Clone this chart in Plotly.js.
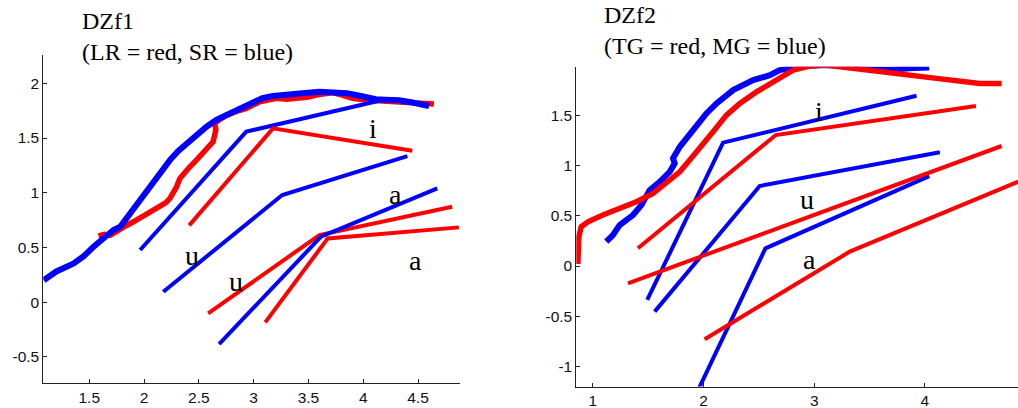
<!DOCTYPE html>
<html>
<head>
<meta charset="utf-8">
<script src="https://cdn.plot.ly/plotly-3.0.1.min.js"></script>
<style>
html, body { margin: 0; padding: 0; background: #fff; }
#chart { width: 1018px; height: 408px; }
</style>
</head>
<body>
<div id="chart"></div>
<script>
// ---------- DZf1 (LR = red, SR = blue) ----------
const dzf1_SR_x = [1.085, 1.20, 1.358, 1.45, 1.539, 1.63, 1.721, 1.782, 1.85, 1.934, 2.00, 2.085, 2.16, 2.236, 2.31, 2.388, 2.47, 2.57, 2.66, 2.782, 2.88, 2.994, 3.08, 3.176, 3.30, 3.418, 3.6, 3.721, 3.85, 3.933, 4.03, 4.115, 4.2, 4.327, 4.45, 4.6];
const dzf1_SR_y = [0.20, 0.28, 0.354, 0.42, 0.506, 0.58, 0.659, 0.688, 0.78, 0.902, 0.995, 1.115, 1.21, 1.298, 1.38, 1.451, 1.53, 1.603, 1.665, 1.726, 1.78, 1.832, 1.865, 1.884, 1.90, 1.908, 1.923, 1.921, 1.91, 1.893, 1.87, 1.854, 1.85, 1.845, 1.825, 1.793];
const dzf1_LR_x = [1.585, 1.64, 1.69, 1.782, 1.84, 1.903, 1.994, 2.024, 2.08, 2.145, 2.2, 2.236, 2.27, 2.297, 2.327, 2.37, 2.418, 2.48, 2.539, 2.59, 2.630, 2.655, 2.645, 2.70, 2.752, 2.85, 2.934, 3.055, 3.206, 3.30, 3.388, 3.5, 3.57, 3.65, 3.721, 3.80, 3.903, 4.024, 4.15, 4.327, 4.50, 4.645];
const dzf1_LR_y = [0.604, 0.62, 0.61, 0.673, 0.70, 0.734, 0.785, 0.811, 0.84, 0.871, 0.91, 0.948, 1.0, 1.054, 1.131, 1.19, 1.237, 1.30, 1.36, 1.41, 1.466, 1.573, 1.634, 1.675, 1.71, 1.745, 1.771, 1.832, 1.863, 1.855, 1.863, 1.875, 1.893, 1.91, 1.915, 1.895, 1.863, 1.848, 1.84, 1.832, 1.825, 1.811];

const dzf1_SR_i_x = [1.964, 2.933, 4.145], dzf1_SR_i_y = [0.476, 1.558, 1.841];
const dzf1_SR_u_x = [2.176, 3.261, 4.403], dzf1_SR_u_y = [0.095, 0.979, 1.335];
const dzf1_SR_a_x = [2.685, 3.615, 4.676], dzf1_SR_a_y = [-0.384, 0.598, 1.04];
const dzf1_LR_i_x = [2.412, 3.176, 4.448], dzf1_LR_i_y = [0.701, 1.588, 1.384];
const dzf1_LR_u_x = [2.585, 3.6, 4.812],   dzf1_LR_u_y = [-0.104, 0.613, 0.872];
const dzf1_LR_a_x = [3.106, 3.676, 4.873], dzf1_LR_a_y = [-0.186, 0.582, 0.683];

const dzf1_labels = ["i", "a", "u", "u", "a"];
const dzf1_label_x = [4.085, 4.291, 2.433, 2.836, 4.473];
const dzf1_label_y = [1.588, 0.988, 0.43, 0.186, 0.384];

const dzf1_xtickvals = [1.5, 2, 2.5, 3, 3.5, 4, 4.5];
const dzf1_xticktext = ["1.5", "2", "2.5", "3", "3.5", "4", "4.5"];
const dzf1_ytickvals = [-0.5, 0, 0.5, 1, 1.5, 2];
const dzf1_yticktext = ["-0.5", "0", "0.5", "1", "1.5", "2"];

// ---------- DZf2 (TG = red, MG = blue) ----------
const dzf2_MG_x = [1.121, 1.181, 1.242, 1.362, 1.438, 1.513, 1.604, 1.694, 1.739, 1.724, 1.785, 1.905, 2.026, 2.117, 2.267, 2.448, 2.599, 2.688, 2.9, 3.1, 3.3, 3.5, 3.7, 3.9, 4.039];
const dzf2_MG_y = [0.242, 0.308, 0.408, 0.507, 0.606, 0.755, 0.838, 0.937, 1.021, 1.071, 1.186, 1.352, 1.518, 1.617, 1.75, 1.849, 1.899, 1.95, 1.99, 2.0, 1.99, 1.96, 1.955, 1.97, 1.975];
const dzf2_TG_x = [0.864, 0.873, 0.895, 0.955, 1.09, 1.242, 1.393, 1.543, 1.664, 1.785, 1.875, 1.995, 2.086, 2.207, 2.328, 2.479, 2.599, 2.809, 2.96, 3.1, 3.291, 3.653, 4.105, 4.497, 4.693];
const dzf2_TG_y = [0.02, 0.291, 0.391, 0.44, 0.507, 0.574, 0.639, 0.723, 0.822, 0.937, 1.054, 1.203, 1.335, 1.501, 1.617, 1.733, 1.816, 1.95, 1.99, 2.0, 1.975, 1.923, 1.867, 1.817, 1.817];

const dzf2_MG_i_x = [1.491, 2.176, 3.924], dzf2_MG_i_y = [-0.338, 1.227, 1.694];
const dzf2_MG_u_x = [1.558, 2.507, 4.135], dzf2_MG_u_y = [-0.454, 0.796, 1.131];
const dzf2_MG_a_x = [1.944, 2.559, 4.039], dzf2_MG_a_y = [-1.25, 0.176, 0.895];
const dzf2_TG_i_x = [1.407, 2.652, 4.461], dzf2_TG_i_y = [0.176, 1.303, 1.592];
const dzf2_TG_u_x = [1.317, 4.693],        dzf2_TG_u_y = [-0.172, 1.194];
const dzf2_TG_a_x = [2.01, 3.321, 4.844],  dzf2_TG_a_y = [-0.729, 0.143, 0.839];

const dzf2_labels = ["i", "u", "a"];
const dzf2_label_x = [3.041, 2.935, 2.96];
const dzf2_label_y = [1.535, 0.666, 0.06];

const dzf2_xtickvals = [1, 2, 3, 4];
const dzf2_xticktext = ["1", "2", "3", "4"];
const dzf2_ytickvals = [-1, -0.5, 0, 0.5, 1, 1.5];
const dzf2_yticktext = ["-1", "-0.5", "0", "0.5", "1", "1.5"];

const titles = ["DZf1", "(LR = red, SR = blue)", "DZf2", "(TG = red, MG = blue)"];

// ---------- build ----------
const RED = "#ff0000", BLUE = "#0000ff";
function line(x, y, color, w, xa, ya) {
  return { type: "scatter", mode: "lines", x: x, y: y, xaxis: xa, yaxis: ya,
           line: { color: color, width: w, shape: "linear" }, hoverinfo: "skip", showlegend: false };
}
const traces = [
  line(dzf1_LR_x, dzf1_LR_y, RED, 5.5, "x", "y"),
  line(dzf1_SR_x, dzf1_SR_y, BLUE, 6, "x", "y"),
  line(dzf1_SR_i_x, dzf1_SR_i_y, BLUE, 4, "x", "y"),
  line(dzf1_SR_u_x, dzf1_SR_u_y, BLUE, 4, "x", "y"),
  line(dzf1_LR_i_x, dzf1_LR_i_y, RED, 4, "x", "y"),
  line(dzf1_LR_u_x, dzf1_LR_u_y, RED, 4, "x", "y"),
  line(dzf1_LR_a_x, dzf1_LR_a_y, RED, 4, "x", "y"),
  line(dzf1_SR_a_x, dzf1_SR_a_y, BLUE, 4, "x", "y"),

  line(dzf2_MG_x, dzf2_MG_y, BLUE, 6, "x2", "y2"),
  line(dzf2_TG_x, dzf2_TG_y, RED, 5.5, "x2", "y2"),
  line(dzf2_MG_i_x, dzf2_MG_i_y, BLUE, 4, "x2", "y2"),
  line(dzf2_MG_u_x, dzf2_MG_u_y, BLUE, 4, "x2", "y2"),
  line(dzf2_MG_a_x, dzf2_MG_a_y, BLUE, 4, "x2", "y2"),
  line(dzf2_TG_i_x, dzf2_TG_i_y, RED, 4, "x2", "y2"),
  line(dzf2_TG_u_x, dzf2_TG_u_y, RED, 4, "x2", "y2"),
  line(dzf2_TG_a_x, dzf2_TG_a_y, RED, 4, "x2", "y2")
];

const SERIF = "Liberation Serif, Times New Roman, serif";
const SANS = "Liberation Sans, Arial, Helvetica, sans-serif";
const annotations = [];
dzf1_labels.forEach((t, i) => annotations.push({ text: t, x: dzf1_label_x[i], y: dzf1_label_y[i],
  xref: "x", yref: "y", showarrow: false, xanchor: "center", yanchor: "middle",
  font: { family: SERIF, size: 28, color: "#000" } }));
dzf2_labels.forEach((t, i) => annotations.push({ text: t, x: dzf2_label_x[i], y: dzf2_label_y[i],
  xref: "x2", yref: "y2", showarrow: false, xanchor: "center", yanchor: "middle",
  font: { family: SERIF, size: 28, color: "#000" } }));
const W = 1018, H = 408;
const titlePos = [[80, 21], [80, 52], [602, 15], [602, 46]];
titles.forEach((t, i) => annotations.push({ text: t, x: titlePos[i][0] / W, y: 1 - titlePos[i][1] / H,
  xref: "paper", yref: "paper", showarrow: false, xanchor: "left", yanchor: "middle",
  font: { family: SERIF, size: 24, color: "#000" } }));

function axis(extra) {
  return Object.assign({
    showgrid: false, zeroline: false, showline: true, linecolor: "#222", linewidth: 1,
    ticks: "inside", ticklen: 4, tickwidth: 1, tickcolor: "#222", mirror: false,
    tickmode: "array", tickfont: { family: SANS, size: 15.5, color: "#111" }, fixedrange: true
  }, extra);
}

const layout = {
  width: W, height: H,
  margin: { l: 0, r: 0, t: 0, b: 0, pad: 0 },
  paper_bgcolor: "#fff", plot_bgcolor: "#fff",
  showlegend: false,
  xaxis: axis({ domain: [43.3 / W, 460 / W], range: [1.0806, 4.883], anchor: "y",
                tickvals: dzf1_xtickvals, ticktext: dzf1_xticktext }),
  yaxis: axis({ domain: [(H - 383) / H, (H - 55) / H], range: [-0.740, 2.259], anchor: "x",
                tickvals: dzf1_ytickvals, ticktext: dzf1_yticktext }),
  xaxis2: axis({ domain: [576.3 / W, 1], range: [0.850, 4.841], anchor: "y2",
                tickvals: dzf2_xtickvals, ticktext: dzf2_xticktext }),
  yaxis2: axis({ domain: [(H - 386.5) / H, (H - 66.7) / H], range: [-1.199, 1.983], anchor: "x2",
                tickvals: dzf2_ytickvals, ticktext: dzf2_yticktext }),
  annotations: annotations
};

Plotly.newPlot("chart", traces, layout, { staticPlot: true, displayModeBar: false });
</script>
</body>
</html>
